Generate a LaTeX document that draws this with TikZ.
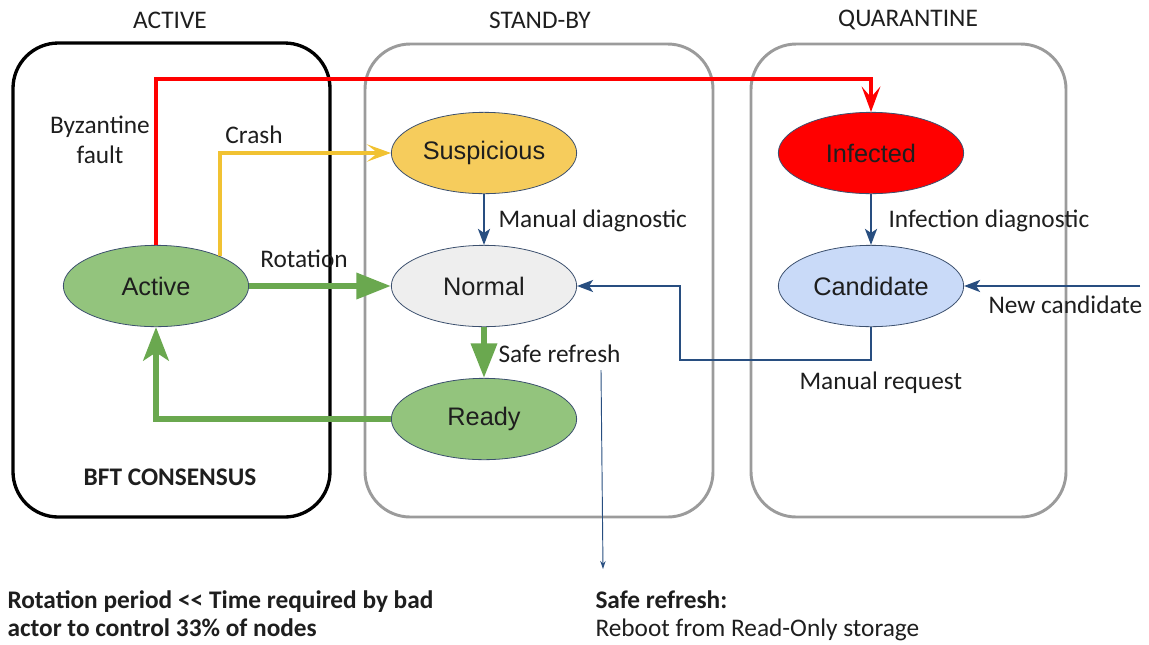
\documentclass[tikz,border=0pt]{standalone}
\usepackage{fontspec}
\setmainfont{Carlito}
\newfontfamily\arialfont{Liberation Sans}
\usetikzlibrary{shapes.geometric,arrows.meta}
\tikzset{every picture/.style={line width=0.75pt}}

\definecolor{grnfill}{RGB}{147,196,125}
\definecolor{grnline}{RGB}{106,168,79}
\definecolor{ylwfill}{RGB}{246,204,92}
\definecolor{ylwline}{RGB}{241,194,50}
\definecolor{nrmfill}{RGB}{238,238,238}
\definecolor{candfill}{RGB}{201,218,248}
\definecolor{bluline}{RGB}{40,78,128}
\definecolor{boxgray}{RGB}{155,155,155}
\definecolor{edgeblue}{RGB}{60,80,110}
\definecolor{txtdark}{RGB}{30,30,30}

\tikzset{
  state/.style={ellipse, draw=edgeblue, line width=0.6pt, minimum width=139pt, minimum height=61pt, inner sep=0pt, text=txtdark, font=\arialfont\fontsize{19}{22}\selectfont},
  lbl/.style={inner sep=0.75pt, text=txtdark, font=\fontsize{19}{21}\selectfont},
  zonebox/.style={rounded corners=34pt, line width=2.2pt},
  redarr/.style={draw=red, line width=2.6pt, -{Stealth[length=19pt, width=14pt, inset=8pt]}},
  ylwarr/.style={draw=ylwline, line width=2.3pt, -{Stealth[length=18pt, width=13pt, inset=8pt]}},
  grnarr/.style={draw=grnline, line width=4.5pt, -{Triangle[length=26pt, width=19pt]}},
  grnback/.style={draw=grnline, line width=4.5pt, -{Stealth[length=25pt, width=19pt, inset=6pt]}},
  bluarr/.style={draw=bluline, line width=1.8pt, -{Stealth[length=12pt, width=9pt, inset=3pt]}},
  thinarr/.style={draw=bluline, line width=0.7pt, -{Stealth[length=6pt, width=4pt]}}
}

\begin{document}
\begin{tikzpicture}[x=0.75pt,y=0.75pt,yscale=-1,xscale=1]
        \useasboundingbox (0,0) rectangle (1149,644);

        %Rounded Rect: zones
        \draw [zonebox, line width=2.5pt] (13,43) rectangle (330,517);
        \draw [zonebox, draw=boxgray] (365,44) rectangle (713,517);
        \draw [zonebox, draw=boxgray] (751,44) rectangle (1066,517);

        % Text Node
        \node [lbl] (tact) at (170,20) {ACTIVE};
        \node [lbl] (tsby) at (540,20) {STAND-BY};
        \node [lbl] (tqua) at (908,20) {QUARANTINE};

        %Shape: Ellipse
        \node [state, fill=grnfill] (act) at (156,286) {Active};
        \node [state, fill=ylwfill] (susp) at (484,153) {Suspicious};
        \node [state, fill=nrmfill] (norm) at (484,286) {Normal};
        \node [state, fill=grnfill] (ready) at (484,419) {Ready};
        \node [state, fill=red] (inf) at (871,153) {Infected};
        \node [state, fill=candfill] (cand) at (871,286) {Candidate};

        \coordinate (mreq) at (680,360);
        \coordinate (newc) at (1140,286);
        \coordinate (sref) at (601,370);
        \coordinate (sbot) at (603,569);

        %Straight Lines
        \draw [redarr] (act.north) -- ++(0,-166) -| (inf.north);
        \draw [ylwarr] (act) ++(64,-30) |- (susp.west);
        \draw [grnarr] (act) -- (norm);
        \draw [grnarr] (norm) -- (ready);
        \draw [grnback] (ready.west) -| (act.south);
        \draw [bluarr] (susp) -- (norm);
        \draw [bluarr] (inf) -- (cand);
        \draw [bluarr, line width=1.5pt] (cand.south) |- (mreq) |- (norm.east);
        \draw [bluarr] (newc) -- (cand.east);
        \draw [thinarr] (sref) -- (sbot);

        % Text Node
        \node [lbl, align=center, font=\fontsize{19}{22.5}\selectfont] (byz) at (100,140) {Byzantine\\fault};
        \node [lbl] (crash) at (254,135) {Crash};
        \node [lbl] (rot) at (304,259) {Rotation};
        \node [lbl, anchor=west] (mdiag) at (497,221) {Manual diagnostic};
        \node [lbl, anchor=west] (sfr) at (497,354) {Safe refresh};
        \node [lbl, anchor=west] (idiag) at (887,221) {Infection diagnostic};
        \node [lbl, anchor=west] (ncand) at (987,305) {New candidate};
        \node [lbl, anchor=west] (mrq) at (798,383) {Manual request};
        \node [lbl, font=\bfseries\fontsize{19}{21}\selectfont] (bft) at (170,477) {BFT CONSENSUS};
        \node [lbl, anchor=north west, align=left, font=\bfseries\fontsize{19}{21}\selectfont] (rperiod) at (6,589) {Rotation period <{}< Time required by bad\\actor to control 33\% of nodes};
        \node [lbl, anchor=north west, align=left] (srnote) at (594,589) {\textbf{Safe refresh:}\\Reboot from Read-Only storage};
\end{tikzpicture}
\end{document}
